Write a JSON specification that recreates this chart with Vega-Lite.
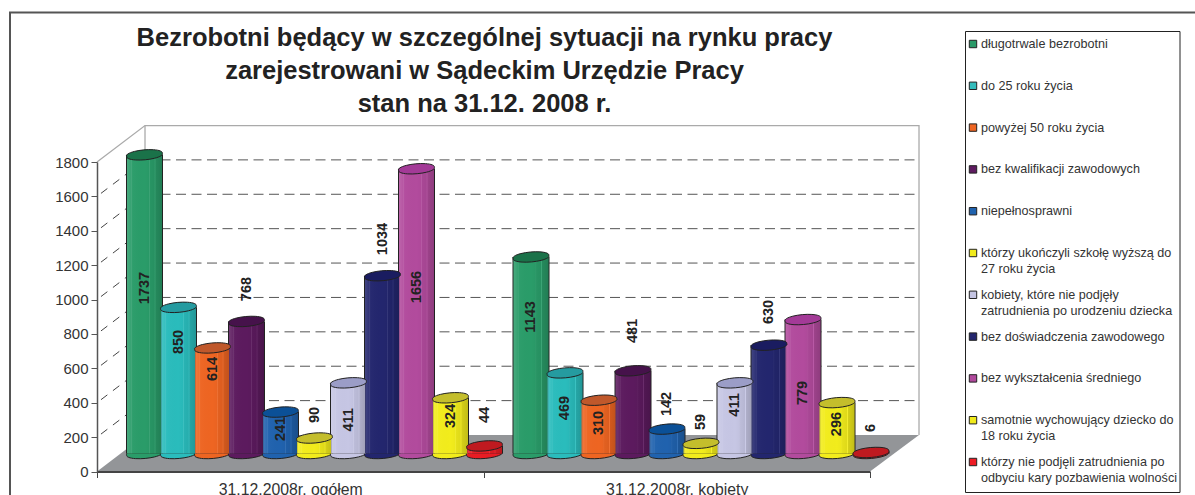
{
"$schema":"https://vega.github.io/schema/vega-lite/v6.json",
"width":1195,"height":495,"padding":0,"autosize":{"type":"none"},"background":"white",
"config":{"view":{"stroke":null},"font":"Liberation Sans"},
"title":{"text":["Bezrobotni będący w szczególnej sytuacji na rynku pracy","zarejestrowani w Sądeckim Urzędzie Pracy","stan na 31.12. 2008 r."],"font":"Liberation Sans","fontSize":25.5,"fontWeight":"bold","color":"#222","lineHeight":33,"anchor":"middle","frame":"group","baseline":"top","offset":0,"dx":-113,"dy":117},
"datasets":{
"dane":[
{"okres":"31.12.2008r. ogółem","seria":"długotrwale bezrobotni","wartosc":1737,"poziom":1067},
{"okres":"31.12.2008r. ogółem","seria":"do 25 roku życia","wartosc":850,"poziom":753},
{"okres":"31.12.2008r. ogółem","seria":"powyżej 50 roku życia","wartosc":614,"poziom":596},
{"okres":"31.12.2008r. ogółem","seria":"bez kwalifikacji zawodowych","wartosc":768,"poziom":1061},
{"okres":"31.12.2008r. ogółem","seria":"niepełnosprawni","wartosc":241,"poziom":247},
{"okres":"31.12.2008r. ogółem","seria":"którzy ukończyli szkołę wyższą do 27 roku życia","wartosc":90,"poziom":329},
{"okres":"31.12.2008r. ogółem","seria":"kobiety, które nie podjęły zatrudnienia po urodzeniu dziecka","wartosc":411,"poziom":300},
{"okres":"31.12.2008r. ogółem","seria":"bez doświadczenia zawodowego","wartosc":1034,"poziom":1352},
{"okres":"31.12.2008r. ogółem","seria":"bez wykształcenia średniego","wartosc":1656,"poziom":1073},
{"okres":"31.12.2008r. ogółem","seria":"samotnie wychowujący dziecko do 18 roku życia","wartosc":324,"poziom":323},
{"okres":"31.12.2008r. ogółem","seria":"którzy nie podjęli zatrudnienia po odbyciu kary pozbawienia wolności","wartosc":44,"poziom":329},
{"okres":"31.12.2008r. kobiety","seria":"długotrwale bezrobotni","wartosc":1143,"poziom":899},
{"okres":"31.12.2008r. kobiety","seria":"do 25 roku życia","wartosc":469,"poziom":369},
{"okres":"31.12.2008r. kobiety","seria":"powyżej 50 roku życia","wartosc":310,"poziom":282},
{"okres":"31.12.2008r. kobiety","seria":"bez kwalifikacji zawodowych","wartosc":481,"poziom":817},
{"okres":"31.12.2008r. kobiety","seria":"niepełnosprawni","wartosc":142,"poziom":393},
{"okres":"31.12.2008r. kobiety","seria":"którzy ukończyli szkołę wyższą do 27 roku życia","wartosc":59,"poziom":288},
{"okres":"31.12.2008r. kobiety","seria":"kobiety, które nie podjęły zatrudnienia po urodzeniu dziecka","wartosc":411,"poziom":387},
{"okres":"31.12.2008r. kobiety","seria":"bez doświadczenia zawodowego","wartosc":630,"poziom":928},
{"okres":"31.12.2008r. kobiety","seria":"bez wykształcenia średniego","wartosc":779,"poziom":457},
{"okres":"31.12.2008r. kobiety","seria":"samotnie wychowujący dziecko do 18 roku życia","wartosc":296,"poziom":276},
{"okres":"31.12.2008r. kobiety","seria":"którzy nie podjęli zatrudnienia po odbyciu kary pozbawienia wolności","wartosc":6,"poziom":253}
],
"legenda":[
{"seria":"długotrwale bezrobotni","opis":["długotrwale bezrobotni"]},
{"seria":"do 25 roku życia","opis":["do 25 roku życia"]},
{"seria":"powyżej 50 roku życia","opis":["powyżej 50 roku życia"]},
{"seria":"bez kwalifikacji zawodowych","opis":["bez kwalifikacji zawodowych"]},
{"seria":"niepełnosprawni","opis":["niepełnosprawni"]},
{"seria":"którzy ukończyli szkołę wyższą do 27 roku życia","opis":["którzy ukończyli szkołę wyższą do"," 27 roku życia"]},
{"seria":"kobiety, które nie podjęły zatrudnienia po urodzeniu dziecka","opis":["kobiety, które nie podjęły","zatrudnienia po urodzeniu dziecka"]},
{"seria":"bez doświadczenia zawodowego","opis":["bez doświadczenia zawodowego"]},
{"seria":"bez wykształcenia średniego","opis":["bez wykształcenia średniego"]},
{"seria":"samotnie wychowujący dziecko do 18 roku życia","opis":["samotnie wychowujący dziecko do"," 18 roku życia"]},
{"seria":"którzy nie podjęli zatrudnienia po odbyciu kary pozbawienia wolności","opis":["którzy nie podjęli zatrudnienia po","odbyciu kary pozbawienia wolności"]}
]
},
"resolve":{"scale":{"x":"independent","y":"independent","color":"independent","fill":"independent"},"axis":{"x":"independent","y":"independent"}},
"layer":[
{"data":{"values":[{"ramka":1}]},
 "mark":{"type":"rect","fill":"transparent","stroke":"#555","strokeWidth":2,"clip":false},
 "encoding":{
  "x":{"datum":0,"type":"quantitative","axis":null,"scale":{"domain":[0,1],"range":[10,1230],"nice":false,"zero":false}},
  "x2":{"datum":1},
  "y":{"datum":0,"type":"quantitative","axis":null,"scale":{"domain":[0,1],"range":[12.5,530],"nice":false,"zero":false}},
  "y2":{"datum":1}}},
{"layer":[
 {"data":{"values":[{"g":0,"gora":0,"dol":0},{"g":0.1242,"gora":212,"dol":0},{"g":2,"gora":212,"dol":0},{"g":2.1268,"gora":212,"dol":212}]},
  "mark":{"type":"area","color":"#939598","clip":false},
  "encoding":{"x":{"field":"g","type":"quantitative"},"y":{"field":"gora","type":"quantitative","stack":null},"y2":{"field":"dol"}}},
 {"data":{"values":[{"poziom":200},{"poziom":400},{"poziom":600},{"poziom":800},{"poziom":1000},{"poziom":1200},{"poziom":1400},{"poziom":1600}]},
  "mark":{"type":"rule","color":"#555","strokeWidth":1,"strokeDash":[10,5.5],"yOffset":-36.5,"y2Offset":-36.5},
  "encoding":{"x":{"datum":0.1242,"type":"quantitative"},"x2":{"datum":2.1268},"y":{"field":"poziom","type":"quantitative"}}},
 {"data":{"values":[{"poziom":200,"tyl":412},{"poziom":400,"tyl":612},{"poziom":600,"tyl":812},{"poziom":800,"tyl":1012},{"poziom":1000,"tyl":1212},{"poziom":1200,"tyl":1412},{"poziom":1400,"tyl":1612},{"poziom":1600,"tyl":1812}]},
  "mark":{"type":"rule","color":"#444","strokeWidth":1,"strokeDash":[8,7],"strokeDashOffset":10},
  "encoding":{"x":{"datum":0,"type":"quantitative"},"x2":{"datum":0.1242},"y":{"field":"poziom","type":"quantitative"},"y2":{"field":"tyl"}}},
 {"data":{"values":[{"g":0,"p":1800},{"g":0.1242,"p":2012},{"g":2.1268,"p":2012},{"g":2.1268,"p":212}]},
  "mark":{"type":"line","color":"#aaa","strokeWidth":1.3,"clip":false},
  "encoding":{"x":{"field":"g","type":"quantitative"},"y":{"field":"p","type":"quantitative"}}},
 {"data":{"values":[{"g":0.1242,"p":212,"p2":2012}]},
  "mark":{"type":"rule","color":"#aaa","strokeWidth":1.3},
  "encoding":{"x":{"field":"g","type":"quantitative"},"y":{"field":"p","type":"quantitative"},"y2":{"field":"p2"}}}
 ],
 "encoding":{
  "x":{"type":"quantitative","axis":null,"scale":{"domain":[0,2],"range":[97,870],"nice":false,"zero":false}},
  "y":{"type":"quantitative","axis":null,"scale":{"domain":[0,1800],"range":[471.5,162],"nice":false,"zero":false}}}
},
{"data":{"name":"dane"},
 "encoding":{
  "x":{"field":"okres","type":"nominal","sort":null,"title":null,"scale":{"range":[97,870],"paddingInner":0,"paddingOuter":0},
   "axis":{"orient":"bottom","offset":-23.5,"labelAngle":0,"labelFontSize":15.8,"labelColor":"#333","labelFont":"Liberation Sans","domainColor":"#444","domainWidth":2,"tickColor":"#444","tickSize":6,"tickWidth":1,"tickBand":"extent","labelPadding":5,"zindex":1}},
  "xOffset":{"field":"seria","type":"nominal","sort":null,"scale":{"paddingInner":0,"paddingOuter":0,"range":[30.5,404.5]}},
  "y":{"field":"wartosc","type":"quantitative","stack":null,"title":null,"scale":{"domain":[0,1800],"range":[471.5,162],"nice":false,"zero":false},
   "axis":{"orient":"left","offset":-97,"values":[0,200,400,600,800,1000,1200,1400,1600,1800],"format":"d","grid":false,"labelFontSize":15,"labelColor":"#333","labelFont":"Liberation Sans","domainColor":"#555","domainWidth":1.5,"tickColor":"#555","tickSize":6,"labelPadding":3,"zindex":1}}
 },
 "layer":[
  {"mark":{"type":"point","filled":true,"opacity":1,"size":1296,"shape":"M-0.99,0.09 A1,0.25,-5,1,1,0.99,-0.09 A1,0.25,-5,1,1,-0.99,0.09 Z","stroke":"#222","strokeWidth":1,"yOffset":-18},
   "encoding":{"y":{"datum":0,"type":"quantitative"},
    "fill":{"field":"seria","type":"nominal","sort":null,"legend":null,"scale":{"domain":["długotrwale bezrobotni","do 25 roku życia","powyżej 50 roku życia","bez kwalifikacji zawodowych","niepełnosprawni","którzy ukończyli szkołę wyższą do 27 roku życia","kobiety, które nie podjęły zatrudnienia po urodzeniu dziecka","bez doświadczenia zawodowego","bez wykształcenia średniego","samotnie wychowujący dziecko do 18 roku życia","którzy nie podjęli zatrudnienia po odbyciu kary pozbawienia wolności"],
     "range":["#2a9c69","#2abcbc","#ee6522","#5c1a5e","#2062ae","#f2ec1c","#c6c6e4","#23266e","#b24b9d","#f2ec1c","#e81c24"]}}}},
  {"mark":{"type":"bar","width":37,"color":"#222","yOffset":-18,"y2Offset":-18},
   "encoding":{"y2":{"datum":0}}},
  {"mark":{"type":"bar","width":35,"yOffset":-18,"y2Offset":-18},
   "encoding":{"y2":{"datum":0},"fill":{"field":"seria","type":"nominal","sort":null,"legend":null}}},
  {"mark":{"type":"bar","width":35,"yOffset":-18,"y2Offset":-18,
    "color":{"gradient":"linear","x1":0,"y1":0,"x2":1,"y2":0,"stops":[
     {"offset":0,"color":"rgba(255,255,255,0.14)"},{"offset":0.12,"color":"rgba(255,255,255,0.06)"},{"offset":0.13,"color":"rgba(255,255,255,0.12)"},{"offset":0.16,"color":"rgba(255,255,255,0.02)"},
     {"offset":0.5,"color":"rgba(0,0,0,0)"},{"offset":0.62,"color":"rgba(0,0,0,0.02)"},{"offset":0.64,"color":"rgba(255,255,255,0.1)"},{"offset":0.66,"color":"rgba(0,0,0,0.05)"},
     {"offset":0.78,"color":"rgba(0,0,0,0.08)"},{"offset":0.8,"color":"rgba(255,255,255,0.08)"},{"offset":0.82,"color":"rgba(0,0,0,0.12)"},{"offset":1,"color":"rgba(0,0,0,0.2)"}]}},
   "encoding":{"y2":{"datum":0}}},
  {"mark":{"type":"point","filled":true,"opacity":1,"size":1296,"shape":"M-0.99,0.09 A1,0.25,-5,1,1,0.99,-0.09 A1,0.25,-5,1,1,-0.99,0.09 Z","stroke":"#222","strokeWidth":1,"yOffset":-18},
   "encoding":{"color":{"field":"seria","type":"nominal","sort":null,"legend":null,"scale":{"domain":["długotrwale bezrobotni","do 25 roku życia","powyżej 50 roku życia","bez kwalifikacji zawodowych","niepełnosprawni","którzy ukończyli szkołę wyższą do 27 roku życia","kobiety, które nie podjęły zatrudnienia po urodzeniu dziecka","bez doświadczenia zawodowego","bez wykształcenia średniego","samotnie wychowujący dziecko do 18 roku życia","którzy nie podjęli zatrudnienia po odbyciu kary pozbawienia wolności"],"range":["#1a7249","#259ba0","#c0582b","#46124b","#0b5097","#c4be2c","#9b9dc7","#1a1c60","#a33a97","#c4be2c","#bf1a20"]}}}},
  {"mark":{"type":"text","angle":270,"font":"Liberation Sans","fontSize":14.5,"fontWeight":"bold","color":"#222","baseline":"middle","align":"center"},
   "encoding":{"y":{"field":"poziom","type":"quantitative"},"text":{"field":"wartosc","type":"quantitative","format":"d"}}}
 ]},
{"data":{"values":[{"ramka":1}]},
 "mark":{"type":"rect","fill":"white","stroke":"#222","strokeWidth":1},
 "encoding":{
  "x":{"datum":0,"type":"quantitative","axis":null,"scale":{"domain":[0,1],"range":[965.5,1180],"nice":false,"zero":false}},
  "x2":{"datum":1},
  "y":{"datum":0,"type":"quantitative","axis":null,"scale":{"domain":[0,1],"range":[31.5,492.5],"nice":false,"zero":false}},
  "y2":{"datum":1}}},
{"data":{"name":"legenda"},
 "encoding":{
  "y":{"field":"seria","type":"ordinal","sort":null,"axis":null,"scale":{"type":"point","range":[48,466],"padding":0}}
 },
 "layer":[
  {"mark":{"type":"point","shape":"square","filled":true,"opacity":1,"size":55,"stroke":"#222","strokeWidth":1,"yOffset":-4},
   "encoding":{"x":{"datum":0,"type":"quantitative","axis":null,"scale":{"domain":[0,1],"range":[973,981],"nice":false,"zero":false}},
    "color":{"field":"seria","type":"nominal","sort":null,"legend":null,"scale":{"domain":["długotrwale bezrobotni","do 25 roku życia","powyżej 50 roku życia","bez kwalifikacji zawodowych","niepełnosprawni","którzy ukończyli szkołę wyższą do 27 roku życia","kobiety, które nie podjęły zatrudnienia po urodzeniu dziecka","bez doświadczenia zawodowego","bez wykształcenia średniego","samotnie wychowujący dziecko do 18 roku życia","którzy nie podjęli zatrudnienia po odbyciu kary pozbawienia wolności"],"range":["#2a9a68","#33bcbc","#ee6522","#5e1b60","#1f62ae","#f0ea1c","#c4c4e2","#23266e","#b0499c","#f0ea1c","#ee1c25"]}}}},
  {"mark":{"type":"text","align":"left","baseline":"alphabetic","font":"Liberation Sans","fontSize":12.6,"color":"#333","lineHeight":16},
   "encoding":{"x":{"datum":1,"type":"quantitative"},"text":{"field":"opis"}}}
 ]}
]
}
